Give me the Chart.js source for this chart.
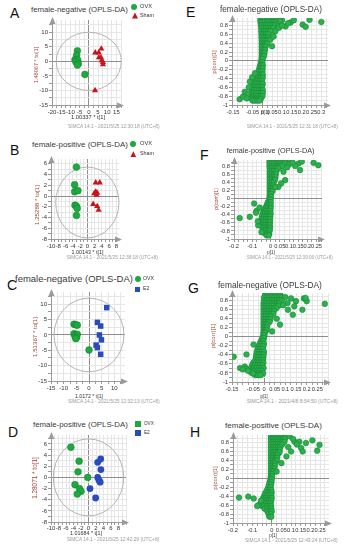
<!DOCTYPE html>
<html><head><meta charset="utf-8">
<script src="https://cdn.jsdelivr.net/npm/chart.js"></script>
<style>
html,body{margin:0;padding:0;background:#fff;}
#root{position:relative;width:345px;height:550px;overflow:hidden;}
.t{position:absolute;white-space:nowrap;line-height:1;}
canvas{position:absolute;}
</style></head><body><div id="root"></div>
<script>
// ---------------- DATA ----------------
// A: female-negative, OVX vs Sham (score plot)
const aOVX  = [[-6.2,3.6],[-6.6,2.1],[-7.5,0.6],[-6.0,0.4],[-7.0,-0.2],[-5.7,-0.8],[-6.2,-1.3],[-2.1,-4.5]];
const aSham = [[3.5,3.0],[5.4,3.0],[6.8,4.3],[5.5,1.3],[6.6,1.3],[7.0,0.3],[7.7,-0.3],[7.7,-1.1],[3.4,-10.0]];
const aXLabels = ['-20','-15','-10','-5','0','5','10','15'];
const aYLabels = ['10','5','0','-5','-10','-15'];
// B: female-positive, OVX vs Sham
const bOVX  = [[-3.0,5.4],[-3.5,2.1],[-3.5,0.8],[-2.6,1.0],[-3.4,-1.7],[-3.0,-1.9],[-2.8,-2.3],[-3.0,-3.6]];
const bSham = [[2.3,2.5],[3.4,2.5],[1.9,0.5],[2.3,0.8],[2.7,0.6],[2.5,0.2],[1.6,-1.5],[2.7,-1.9],[3.1,-2.6]];
const bXLabels = ['-10','-8','-6','-4','-2','0','2','4','6','8'];
const bYLabels = ['6','4','2','0','-2','-4','-6','-8'];
// C: female-negative, OVX vs E2
const cOVX = [[-5.9,3.5],[-5.2,3.3],[-4.6,3.2],[-5.9,0.4],[-5.1,0],[-4.6,0.2],[-5.5,-0.5],[-4.9,-0.8],[-5.2,-1.2],[0,-4.9]];
const cE2  = [[7.0,8.9],[3.3,4.1],[4.6,2.9],[4.1,0],[4.9,-1.6],[2.8,-3.3],[3.3,-4.1],[4.6,-6.3]];
const cXLabels = ['-15','-10','-5','0','5','10'];
const cYLabels = ['10','5','0','-5','-10','-15'];
// D: female-positive, OVX vs E2
const dOVX = [[-4.7,5.4],[-2.5,2.9],[-2.8,1.0],[-0.2,0],[-3.6,-1.3],[-2.4,-2.0],[-2.0,-2.5],[-3.0,-3.0]];
const dE2  = [[3.25,3.3],[2.45,2.7],[3.3,1.4],[2.45,0],[2.8,-0.5],[3.1,-0.85],[0.4,-2.0],[1.9,-3.7]];
const dXLabels = ['-10','-8','-6','-4','-2','0','2','4','6','8'];
const dYLabels = ['6','4','2','0','-2','-4','-6','-8'];

// S-plots: rows of [pcorr, [p values...]] for the dense band, plus single points
const sYLabels = ['0.8','0.6','0.4','0.2','0','-0.2','-0.4','-0.6','-0.8','-1'];
const eXLabels = ['-0.15','-0.05','0','0.05','0.1','0.15','0.2','0.25','0.3'];
const eDense = [
 [0.94,[-0.01,0,0.012,0.024,0.036,0.048,0.06,0.072]],
 [0.88,[-0.01,0,0.012,0.024,0.036,0.048,0.06,0.07]],
 [0.81,[-0.008,0.004,0.016,0.028,0.04,0.052,0.064]],
 [0.74,[-0.006,0.006,0.018,0.03,0.042,0.055]],
 [0.67,[-0.006,0.006,0.018,0.03,0.042]],
 [0.6,[-0.005,0.006,0.018,0.03]],
 [0.53,[-0.005,0.006,0.018,0.028]],
 [0.46,[-0.004,0.006,0.018,0.026]],
 [0.39,[-0.004,0.006,0.016,0.024]],
 [0.32,[-0.004,0.006,0.016]],
 [0.25,[-0.004,0.005,0.013]],
 [0.18,[-0.004,0.004,0.01]],
 [0.11,[-0.004,0.003,0.008]],
 [0.04,[-0.005,0.002]],
 [-0.03,[-0.007,0]],
 [-0.1,[-0.012,-0.003,0.002]],
 [-0.17,[-0.016,-0.006,0.001]],
 [-0.24,[-0.02,-0.01,0]],
 [-0.31,[-0.026,-0.015,-0.004,0.002]],
 [-0.38,[-0.032,-0.02,-0.008,0.002]],
 [-0.45,[-0.038,-0.026,-0.014,-0.002]],
 [-0.52,[-0.044,-0.032,-0.02,-0.008,0.002]],
 [-0.59,[-0.05,-0.038,-0.026,-0.014,-0.002]],
 [-0.66,[-0.054,-0.042,-0.03,-0.018,-0.006,0.002]],
 [-0.73,[-0.056,-0.044,-0.032,-0.02,-0.008,0.002]],
 [-0.8,[-0.058,-0.046,-0.034,-0.022,-0.01,0]],
 [-0.86,[-0.056,-0.044,-0.032,-0.02,-0.008]],
 [-0.9,[-0.05,-0.038,-0.026,-0.014]]
];
const eSingles = [[0.10,0.92],[0.144,0.87],[0.16,0.92],[0.205,0.82],[0.22,0.77],[0.24,0.93],[0.30,0.88],[0.118,0.78],[0.083,0.84],[0.066,0.67],[0.049,0.33],[0.04,0.48],[0.057,0.55],[0.09,0.9],[0.13,0.85],[0.085,0.75],[0.1,0.8],
 [-0.116,-0.87],[-0.099,-0.81],[-0.09,-0.7],[-0.069,-0.6],[-0.064,-0.47],[-0.052,-0.37],[-0.038,-0.28],[-0.075,-0.75],[-0.08,-0.85]];

const fXLabels = ['-0.2','-0.1','0','0.05','0.1','0.15','0.2','0.25'];
const fDense = [
 [0.93,[-0.006,0.006,0.018,0.03,0.042,0.054,0.066,0.078,0.088]],
 [0.87,[-0.006,0.006,0.018,0.03,0.042,0.054,0.066,0.078]],
 [0.81,[-0.006,0.006,0.018,0.03,0.042,0.054,0.064]],
 [0.75,[-0.005,0.007,0.019,0.031,0.042]],
 [0.68,[-0.005,0.007,0.019,0.03]],
 [0.61,[-0.005,0.007,0.019,0.028]],
 [0.54,[-0.005,0.006,0.017,0.026]],
 [0.47,[-0.005,0.006,0.017,0.024]],
 [0.4,[-0.005,0.006,0.016]],
 [0.33,[-0.005,0.005,0.015]],
 [0.26,[-0.005,0.005,0.012]],
 [0.19,[-0.005,0.004,0.01]],
 [0.12,[-0.005,0.003]],
 [0.05,[-0.006,0.002]],
 [-0.02,[-0.008,0]],
 [-0.09,[-0.016,-0.005,0]],
 [-0.16,[-0.022,-0.01,0]],
 [-0.23,[-0.03,-0.018,-0.006,0]],
 [-0.3,[-0.038,-0.026,-0.014,-0.002]],
 [-0.37,[-0.044,-0.032,-0.02,-0.008,0]],
 [-0.44,[-0.048,-0.036,-0.024,-0.012,-0.002]],
 [-0.51,[-0.05,-0.038,-0.026,-0.014,-0.003]],
 [-0.58,[-0.052,-0.04,-0.028,-0.016,-0.004]],
 [-0.65,[-0.05,-0.038,-0.026,-0.014,-0.004]],
 [-0.72,[-0.046,-0.034,-0.022,-0.01,-0.003]],
 [-0.79,[-0.04,-0.028,-0.016,-0.005]],
 [-0.86,[-0.032,-0.02,-0.008]],
 [-0.91,[-0.022,-0.01]]
];
const fSingles = [[0.106,0.92],[0.152,0.875],[0.17,0.92],[0.134,0.81],[0.16,0.71],[0.234,0.89],[0.26,0.83],[0.079,0.46],[0.057,0.38],[0.042,0.29],[0.024,0.29],[0.07,0.67],[0.1,0.85],[0.12,0.9],[0.09,0.78],
 [-0.169,-0.48],[-0.114,-0.45],[-0.09,-0.12],[-0.077,-0.3],[-0.08,-0.35],[-0.068,-0.66],[-0.05,-0.83],[-0.07,-0.56],[-0.06,-0.22]];

const gXLabels = ['-0.15','-0.05','0','0.05','0.1','0.15','0.2','0.25'];
const gDense = [
 [0.93,[0.005,0.017,0.029,0.041,0.053,0.065,0.077]],
 [0.87,[0,0.012,0.024,0.036,0.048,0.06,0.072,0.084]],
 [0.81,[0,0.012,0.024,0.036,0.048,0.06,0.072,0.084]],
 [0.75,[-0.002,0.01,0.022,0.034,0.046,0.058,0.07]],
 [0.69,[-0.002,0.01,0.022,0.034,0.046,0.058,0.068]],
 [0.63,[-0.002,0.01,0.022,0.034,0.046,0.058]],
 [0.57,[-0.002,0.01,0.022,0.034,0.046]],
 [0.51,[-0.002,0.01,0.022,0.034,0.044]],
 [0.45,[-0.002,0.008,0.02,0.032]],
 [0.39,[-0.002,0.008,0.02,0.03]],
 [0.33,[-0.002,0.008,0.018,0.026]],
 [0.27,[-0.002,0.007,0.016]],
 [0.21,[-0.002,0.006,0.014]],
 [0.15,[-0.002,0.005,0.012]],
 [0.09,[-0.003,0.004]],
 [0.03,[-0.004,0.002]],
 [-0.03,[-0.008,0]],
 [-0.09,[-0.014,-0.004]],
 [-0.15,[-0.02,-0.008,0]],
 [-0.21,[-0.026,-0.014,-0.003]],
 [-0.27,[-0.03,-0.018,-0.006]],
 [-0.33,[-0.034,-0.022,-0.01,0]],
 [-0.39,[-0.036,-0.024,-0.012,-0.002]],
 [-0.45,[-0.038,-0.026,-0.014,-0.003]],
 [-0.51,[-0.04,-0.028,-0.016,-0.004]],
 [-0.57,[-0.05,-0.038,-0.026,-0.014,-0.003]],
 [-0.63,[-0.056,-0.044,-0.032,-0.02,-0.008]],
 [-0.69,[-0.06,-0.048,-0.036,-0.024,-0.012,-0.002]],
 [-0.75,[-0.058,-0.046,-0.034,-0.022,-0.01]],
 [-0.81,[-0.05,-0.038,-0.026,-0.014,-0.004]],
 [-0.85,[-0.04,-0.028,-0.016]]
];
const gSingles = [[0.127,0.85],[0.15,0.79],[0.187,0.85],[0.2,0.79],[0.18,0.6],[0.142,0.675],[0.135,0.49],[0.112,0.6],[0.075,0.27],[0.038,0.12],[0.285,0.73],[0.195,0.86],[0.1,0.88],[0.11,0.75],[0.09,0.7],[0.06,0.4],
 [-0.142,-0.44],[-0.112,-0.69],[-0.09,-0.66],[-0.083,-0.71],[-0.082,-0.39],[-0.049,-0.17],[-0.06,-0.79],[-0.052,-0.81],[-0.075,-0.75],[-0.1,-0.72]];

const hXLabels = ['-0.2','-0.1','0','0.05','0.1','0.15','0.2','0.25'];
const hDense = [
 [0.94,[-0.004,0.008,0.02,0.032,0.044,0.056,0.068,0.076]],
 [0.88,[-0.004,0.008,0.02,0.032,0.044,0.056,0.068]],
 [0.82,[-0.004,0.008,0.02,0.032,0.044,0.056,0.066]],
 [0.76,[-0.004,0.008,0.02,0.032,0.044,0.054]],
 [0.7,[-0.004,0.008,0.02,0.032,0.044]],
 [0.64,[-0.004,0.008,0.02,0.032,0.042]],
 [0.58,[-0.004,0.008,0.02,0.032,0.04]],
 [0.52,[-0.004,0.008,0.02,0.03]],
 [0.46,[-0.004,0.008,0.02,0.028]],
 [0.4,[-0.004,0.007,0.018,0.026]],
 [0.34,[-0.004,0.006,0.016]],
 [0.28,[-0.004,0.006,0.016]],
 [0.22,[-0.004,0.005,0.014]],
 [0.16,[-0.004,0.004,0.012]],
 [0.1,[-0.004,0.003]],
 [0.04,[-0.005,0.002]],
 [-0.02,[-0.006,0]],
 [-0.08,[-0.01,-0.001]],
 [-0.14,[-0.014,-0.003]],
 [-0.2,[-0.018,-0.006]],
 [-0.26,[-0.024,-0.012,-0.002]],
 [-0.32,[-0.032,-0.02,-0.008,0]],
 [-0.38,[-0.038,-0.026,-0.014,-0.002]],
 [-0.44,[-0.044,-0.032,-0.02,-0.008,0]],
 [-0.5,[-0.05,-0.038,-0.026,-0.014,-0.002]],
 [-0.56,[-0.054,-0.042,-0.03,-0.018,-0.006]],
 [-0.62,[-0.05,-0.038,-0.026,-0.014,-0.003]],
 [-0.68,[-0.036,-0.024,-0.012,-0.002]],
 [-0.74,[-0.022,-0.01,0]],
 [-0.8,[-0.016,-0.005]],
 [-0.86,[-0.012,-0.002]]
];
const hSingles = [[0.092,0.94],[0.118,0.82],[0.143,0.82],[0.152,0.68],[0.16,0.6],[0.177,0.79],[0.21,0.85],[0.247,0.75],[0.235,0.62],[0.1,0.6],[0.076,0.49],[0.05,0.34],[0.025,0.15],[0.11,0.88],[0.13,0.76],[0.085,0.7],
 [-0.169,-0.43],[-0.121,-0.41],[-0.093,-0.45],[-0.068,-0.6],[-0.055,-0.5],[-0.075,-0.62]];

// ---------------- RENDERING ----------------
const FONT = '"Liberation Sans", Arial, sans-serif';
const root = document.getElementById('root');
const mctx = document.createElement('canvas').getContext('2d');
function fitSize(str, target){ mctx.font = '100px ' + FONT; return 100*target/mctx.measureText(str).width; }
function label(str, o){
  const d = document.createElement('div'); d.className='t'; d.textContent = str;
  const size = o.size || fitSize(str, o.w);
  d.style.fontSize = size+'px'; d.style.fontFamily = FONT; d.style.color = o.color || '#333';
  d.style.top = o.cy+'px';
  if (o.rot){ d.style.left=o.cx+'px'; d.style.transform='translate(-50%,-50%) rotate(-90deg)'; }
  else if (o.cx!=null){ d.style.left=o.cx+'px'; d.style.transform='translate(-50%,-50%)'; }
  else { d.style.left=o.x+'px'; d.style.transform='translateY(-50%)'; }
  root.appendChild(d);
}
function marker(shape, cx, cy, size, color){
  const d=document.createElement('div'); d.style.position='absolute';
  d.style.left=(cx-size/2)+'px'; d.style.top=(cy-size/2)+'px'; d.style.width=size+'px'; d.style.height=size+'px';
  d.style.background=color;
  if(shape==='circle') d.style.borderRadius='50%';
  if(shape==='triangle') d.style.clipPath='polygon(50% 0,100% 100%,0 100%)';
  root.appendChild(d);
}
function pts(arr){ return arr.map(([x,y])=>({x,y})); }
function rows(rs){ const out=[]; rs.forEach(([y,xs])=>xs.forEach(x=>out.push({x,y}))); return out; }
function gridTicks(min,max,step){ const out=[]; for(let k=Math.ceil(min/step-1e-9); k*step<=max+1e-9; k++) out.push(Math.round(k*step*1e6)/1e6); return out; }

const GREEN='#1fa83f', GREEN_D='#14832e', RED='#c4161c', BLUE='#2b4bbd';

const ellPlugin = { id:'ell', beforeDatasetsDraw(chart, args, o){
  if(!o || !o.rx) return;
  const xs=chart.scales.x, ys=chart.scales.y, ctx=chart.ctx;
  const cx=xs.getPixelForValue(o.cx), cy=ys.getPixelForValue(o.cy);
  const rx=Math.abs(xs.getPixelForValue(o.cx+o.rx)-cx), ry=Math.abs(ys.getPixelForValue(o.cy+o.ry)-cy);
  ctx.save(); ctx.beginPath(); ctx.ellipse(cx,cy,rx,ry,0,0,2*Math.PI);
  ctx.strokeStyle='#b4b4b4'; ctx.lineWidth=1; ctx.stroke(); ctx.restore();
}};
const arrowPlugin = { id:'arrows', afterDraw(chart){
  const ctx=chart.ctx, a=chart.chartArea;
  ctx.save(); ctx.fillStyle='#9a9a9a';
  ctx.beginPath(); ctx.moveTo(a.left+0.5,a.top-3); ctx.lineTo(a.left-2.5,a.top+4); ctx.lineTo(a.left+3.5,a.top+4); ctx.closePath(); ctx.fill();
  ctx.beginPath(); ctx.moveTo(a.right+3,a.bottom+0.5); ctx.lineTo(a.right-4,a.bottom-2.5); ctx.lineTo(a.right-4,a.bottom+3.5); ctx.closePath(); ctx.fill();
  ctx.restore();
}};

function makePanel(p){
  const yW=16, xH=11, pad=5;
  const left=p.L-yW, top=p.T-pad, W=p.R+pad-left, H=p.B+xH-top;
  const cv=document.createElement('canvas'); cv.width=W; cv.height=H;
  cv.style.left=left+'px'; cv.style.top=top+'px'; cv.style.width=W+'px'; cv.style.height=H+'px';
  root.appendChild(cv);
  const lab = labels => v => { const s=labels.find(s=>Math.abs(Number(s)-v)<1e-7); return s===undefined?'':s; };
  const gridColor = c => (c.tick && Math.abs(c.tick.value)<1e-9) ? '#8e8e8e' : '#e6e6e6';
  const scale = (axis, range, step, labels) => {
    const ticks = gridTicks(range[0], range[1], step);
    return {
      type:'linear', min:range[0], max:range[1], bounds:'data', position: axis==='x'?'bottom':'left',
      afterBuildTicks: s => { s.ticks = ticks.map(v=>({value:v})); },
      afterFit: s => { if(axis==='x') s.height=xH; else s.width=yW; s.paddingLeft=0; s.paddingRight=0; s.paddingTop=0; s.paddingBottom=0; },
      ticks:{ autoSkip:false, maxRotation:0, minRotation:0, padding:axis==='x'?p.xPad:1, color:'#333', font:{family:FONT, size:p.tickSize}, callback: lab(labels) },
      grid:{ color:gridColor, lineWidth:1, tickLength:3, tickColor:'#9a9a9a', drawTicks:true },
      border:{ display:true, color:'#9a9a9a', width:1 }
    };
  };
  new Chart(cv, {
    type:'scatter',
    data:{ datasets:p.datasets },
    options:{
      responsive:false, animation:false, events:[],
      layout:{ padding:{ top:pad, right:pad, left:0, bottom:0 } },
      plugins:{ legend:{display:false}, tooltip:{enabled:false}, ell: p.ell || false },
      scales:{ x: scale('x', p.x, p.xStep, p.xLabels), y: scale('y', p.y, p.yStep, p.yLabels) }
    },
    plugins:[ellPlugin, arrowPlugin]
  });
}

const scoreCircle = c => ({pointStyle:'circle', pointRadius:3.4, backgroundColor:c, borderColor:c, borderWidth:0});
const greenCircle = {pointStyle:'circle', pointRadius:3.4, backgroundColor:GREEN, borderColor:GREEN_D, borderWidth:0.5};
const redTri = {pointStyle:'triangle', pointRadius:3.6, backgroundColor:RED, borderColor:RED, borderWidth:0};
const blueSq = {pointStyle:'rect', pointRadius:3.9, backgroundColor:BLUE, borderColor:BLUE, borderWidth:0};
const sPoint = {pointStyle:'circle', pointRadius:2.8, backgroundColor:'#2cb04a', borderColor:'#16873a', borderWidth:0.6};

const panels = [
 {L:52,R:121,T:20,B:105, x:[-20,17.5], y:[-15,14.2], xStep:2.5, yStep:2.5, xLabels:aXLabels, yLabels:aYLabels, tickSize:6, xPad:1,
  ell:{cx:0,cy:0,rx:17.7,ry:10},
  datasets:[Object.assign({data:pts(aOVX)},greenCircle), Object.assign({data:pts(aSham)},redTri)]},
 {L:51,R:119,T:159,B:239, x:[-10,8.7], y:[-8,6.9], xStep:1, yStep:1, xLabels:bXLabels, yLabels:bYLabels, tickSize:6, xPad:1,
  ell:{cx:0,cy:-1.2,rx:8.7,ry:6.6},
  datasets:[Object.assign({data:pts(bOVX)},greenCircle), Object.assign({data:pts(bSham)},redTri)]},
 {L:51,R:125,T:292,B:381, x:[-15,14.2], y:[-15,14], xStep:2.5, yStep:2.5, xLabels:cXLabels, yLabels:cYLabels, tickSize:6, xPad:1,
  ell:{cx:0,cy:0,rx:13.8,ry:12},
  datasets:[Object.assign({data:pts(cOVX)},greenCircle), Object.assign({data:pts(cE2)},blueSq)]},
 {L:51,R:126,T:435,B:522, x:[-10,10], y:[-8,7.6], xStep:1, yStep:1, xLabels:dXLabels, yLabels:dYLabels, tickSize:6, xPad:0,
  ell:{cx:0,cy:0,rx:9.4,ry:6.9},
  datasets:[Object.assign({data:pts(dOVX)},greenCircle), Object.assign({data:pts(dE2)},scoreCircle(BLUE))]},
 {L:232,R:328,T:18,B:105, x:[-0.155,0.334], y:[-1,0.97], xStep:0.025, yStep:0.1, xLabels:eXLabels, yLabels:sYLabels, tickSize:5.7, xPad:1,
  datasets:[Object.assign({data:rows(eDense).concat(pts(eSingles))},sPoint)]},
 {L:234,R:322,T:160,B:239, x:[-0.2,0.28], y:[-1,0.96], xStep:0.025, yStep:0.1, xLabels:fXLabels, yLabels:sYLabels, tickSize:5.7, xPad:1,
  datasets:[Object.assign({data:rows(fDense).concat(pts(fSingles))},sPoint)]},
 {L:232,R:328,T:293,B:382, x:[-0.15,0.3], y:[-1,0.97], xStep:0.025, yStep:0.1, xLabels:gXLabels, yLabels:sYLabels, tickSize:5.7, xPad:1,
  datasets:[Object.assign({data:rows(gDense).concat(pts(gSingles))},sPoint)]},
 {L:233,R:329,T:435,B:523, x:[-0.2,0.296], y:[-1,0.97], xStep:0.025, yStep:0.1, xLabels:hXLabels, yLabels:sYLabels, tickSize:5.7, xPad:1,
  datasets:[Object.assign({data:rows(hDense).concat(pts(hSingles))},sPoint)]}
];
panels.forEach(makePanel);

// ---------------- TEXT ----------------
const YCOL='#a5483c', GRAY='#9a9a9a', TCOL='#3a3a3a';
[['A',10,13.3],['B',10,150],['C',7,285],['D',8,431.5],['E',186,12],['F',200,155],['G',188,288],['H',190,431.5]]
 .forEach(([s,x,cy])=>label(s,{x,cy,size:14,color:'#111'}));

label('female-negative (OPLS-DA)',{x:31,cy:10,w:97,color:TCOL});
label('female-positive (OPLS-DA)',{x:32,cy:145,w:96,color:TCOL});
label('female-negative (OPLS-DA)',{x:15,cy:279,w:118,color:TCOL});
label('female-positive (OPLS-DA)',{x:33,cy:425,w:95,color:TCOL});
label('female-negative (OPLS-DA)',{x:220,cy:10,w:102,color:TCOL});
label('female-positive (OPLS-DA)',{x:226.7,cy:150.7,w:88,color:TCOL});
label('female-negative (OPLS-DA)',{x:218,cy:285,w:104,color:TCOL});
label('female-positive (OPLS-DA)',{x:225,cy:426,w:97,color:TCOL});

// legends
marker('circle',134,7,6,GREEN); label('OVX',{x:140,cy:7,size:5.7});
marker('triangle',135,15.5,6,RED); label('Sham',{x:140,cy:15.5,size:5.4});
marker('circle',132.7,144.3,6,GREEN); label('OVX',{x:140,cy:144.3,size:5.7});
marker('triangle',133.3,154.3,6,RED); label('Sham',{x:140,cy:154.3,size:5.4});
marker('circle',137.7,279.3,6,GREEN); label('OVX',{x:143,cy:279.3,size:5.2});
marker('rect',137.7,289.3,5,BLUE); label('E2',{x:143,cy:289.3,size:5.2});
marker('rect',138.3,423.8,6,GREEN); label('OVX',{x:144,cy:424,size:4.6});
marker('rect',138.3,433.3,6,BLUE); label('E2',{x:144,cy:433.3,size:4.6});

// axis titles
label('1.00337 * t[1]',{cx:88,cy:117.7,w:34});
label('1.00143 * t[1]',{cx:87.5,cy:252.7,w:32});
label('1.0172 * t[1]',{cx:89,cy:396.7,w:28});
label('1.01684 * t[1]',{cx:86,cy:534,w:32});
label('p[1]',{cx:265,cy:113.3,w:8.5});
label('p[1]',{cx:271,cy:253.3,w:7.5});
label('p[1]',{cx:264,cy:396.7,w:7.5});
label('p[1]',{cx:273,cy:536,w:7.5});
label('1.48067 * to[1]',{cx:37.3,cy:65,w:36.7,rot:true,color:YCOL});
label('1.25288 * to[1]',{cx:36.7,cy:205,w:40,rot:true,color:YCOL});
label('1.51367 * to[1]',{cx:35,cy:336.7,w:40,rot:true,color:YCOL});
label('1.28071 * to[1]',{cx:35,cy:477.5,w:41.7,rot:true,color:YCOL});
label('p(corr)[1]',{cx:215,cy:61.7,w:23,rot:true,color:YCOL});
label('p(corr)[1]',{cx:217.3,cy:199,w:21.7,rot:true,color:YCOL});
label('p(corr)[1]',{cx:214.3,cy:336.3,w:24,rot:true,color:YCOL});
label('p(corr)[1]',{cx:215.7,cy:478.3,w:23,rot:true,color:YCOL});

// SIMCA stamps
label('SIMCA 14.1 - 2021/5/25 12:30:18 (UTC+8)',{x:68,cy:126.5,w:92,color:GRAY});
label('SIMCA 14.1 - 2021/5/25 12:38:18 (UTC+8)',{x:66.7,cy:258.3,w:91.5,color:GRAY});
label('SIMCA 14.1 - 2021/5/25 12:32:13 (UTC+8)',{x:68,cy:401.7,w:92,color:GRAY});
label('SIMCA 14.1 - 2021/5/25 12:42:29 (UTC+8)',{x:66.7,cy:539.5,w:93,color:GRAY});
label('SIMCA 14.1 - 2021/5/25 12:31:18 (UTC+8)',{x:246.7,cy:126.7,w:91.5,color:GRAY});
label('SIMCA 14.1 - 2021/5/25 12:39:06 (UTC+8)',{x:246.7,cy:258.3,w:86.5,color:GRAY});
label('SIMCA 14.1 - 2021/4/8 8:54:50 (UTC+8)',{x:246.7,cy:402.3,w:91.5,color:GRAY});
label('SIMCA 14.1 - 2021/5/25 12:43:24 (UTC+8)',{x:245,cy:541,w:93,color:GRAY});
</script></body></html>
